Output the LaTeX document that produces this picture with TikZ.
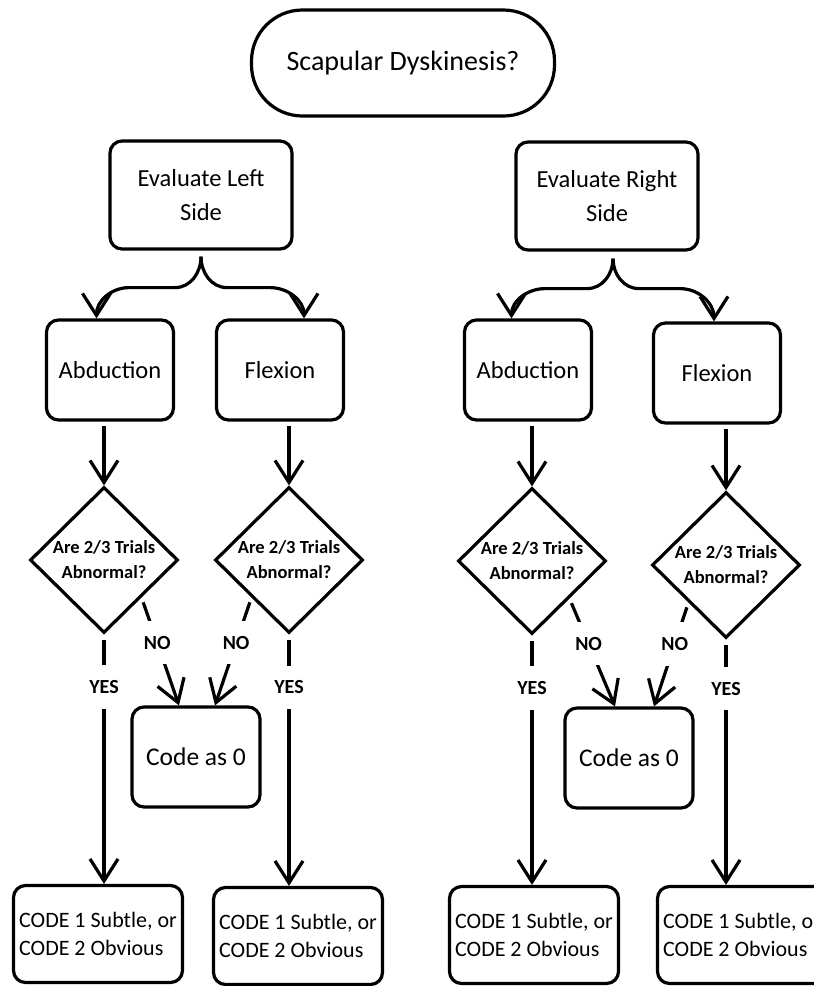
\documentclass[tikz,border=0pt]{standalone}
\usepackage{fontspec}
\setmainfont{Carlito}
\usetikzlibrary{arrows.meta,shapes.geometric}

\tikzset{
	box/.style={draw, line width=3.2pt, rounded corners=12pt, align=center, inner sep=0pt, font=\fontsize{24.5}{34}\selectfont},
	startbox/.style={box, rounded corners=51pt, minimum width=303pt, minimum height=106pt, font=\fontsize{28}{32}\selectfont},
	sidebox/.style={box, minimum width=182pt, minimum height=108pt},
	movebox/.style={box, minimum width=127pt, minimum height=100pt},
	zerobox/.style={box, minimum width=128pt, minimum height=100pt, font=\fontsize{25.5}{30}\selectfont},
	codebox/.style={box, minimum width=169pt, minimum height=97pt, align=left, font=\fontsize{22}{28}\selectfont},
	question/.style={draw, diamond, aspect=1, line width=3.2pt, inner sep=-3pt, minimum width=148pt, minimum height=146pt, align=center, font=\bfseries\fontsize{18.5}{25}\selectfont},
	answer/.style={fill=white, inner xsep=3pt, inner ysep=15pt, font=\bfseries\fontsize{20}{23}\selectfont},
	flow/.style={line width=3.2pt, -{Straight Barb[length=22pt,width=28pt]}, every edge/.append style={line width=3.2pt}}
}

\begin{document}
\begin{tikzpicture}[x=1pt, y=1pt]
	\useasboundingbox (0,0) rectangle (814,-986);
	\node[startbox] (start) at (403,-63) {Scapular Dyskinesis?};
	\node[sidebox] (evl) at (201,-195) {Evaluate Left\\Side};
	\node[sidebox] (evr) at (607,-196) {Evaluate Right\\Side};
	\node[movebox] (abl) at (110,-370) {Abduction};
	\node[movebox] (fll) at (280,-370) {Flexion};
	\node[movebox] (abr) at (528,-370) {Abduction};
	\node[movebox] (flr) at (717,-373) {Flexion};
	\node[question] (dl1) at (104,-560) {Are 2/3 Trials\\Abnormal?};
	\node[question] (dl2) at (289,-560) {Are 2/3 Trials\\Abnormal?};
	\node[question] (dr1) at (532,-561) {Are 2/3 Trials\\Abnormal?};
	\node[question] (dr2) at (726,-565) {Are 2/3 Trials\\Abnormal?};
	\node[zerobox] (c0l) at (196,-757) {Code as 0};
	\node[zerobox] (c0r) at (629,-758) {Code as 0};
	\node[codebox] (cl1) at (98,-934) {CODE 1 Subtle, or\\CODE 2 Obvious};
	\node[codebox] (cl2) at (298,-936) {CODE 1 Subtle, or\\CODE 2 Obvious};
	\node[codebox] (cr1) at (534,-935) {CODE 1 Subtle, or\\CODE 2 Obvious};
	\node[codebox] (cr2) at (742,-935) {CODE 1 Subtle, or\\CODE 2 Obvious};

	\draw[flow] ([yshift=-6pt]evl.south) to[out=-90,in=0] ++(-26,-31) -- ++(-46,0) to[out=180,in=90] ([xshift=-13.5pt]abl.north);
	\draw[flow] ([yshift=-6pt]evl.south) to[out=-90,in=180] ++(26,-31) -- ++(43,0) to[out=0,in=90] ([xshift=24pt]fll.north);
	\draw[flow] ([xshift=6pt,yshift=-7pt]evr.south) to[out=-90,in=0] ++(-26,-30) -- ++(-42,0) to[out=180,in=90] ([xshift=-16.5pt]abr.north);
	\draw[flow] ([xshift=6pt,yshift=-7pt]evr.south) to[out=-90,in=180] ++(26,-30) -- ++(41,0) to[out=0,in=90] ([xshift=-3pt]flr.north);

	\path[flow]
	(abl.south -| dl1.north) edge[shorten <=4pt] (dl1.north)
	(fll.south -| dl2.north) edge[shorten <=4pt] (dl2.north)
	(abr.south -| dr1.north) edge[shorten <=4pt] (dr1.north)
	(flr.south -| dr2.north) edge[shorten <=4pt] (dr2.north)
	(dl1.south) edge[shorten <=5pt] node[answer, pos=0.21] {YES} (dl1.south |- cl1.north)
	(dl2.south) edge[shorten <=5pt] node[answer, pos=0.21] {YES} (dl2.south |- cl2.north)
	(dr1.south) edge[shorten <=5pt] node[answer, pos=0.21] {YES} (dr1.south |- cr1.north)
	(dr2.south) edge[shorten <=5pt] node[answer, pos=0.2] {YES} (dr2.south |- cr2.north)
	(dl1.-45) edge[shorten <=5pt] node[answer, pos=0.42] {NO} ([xshift=-17pt]c0l.north)
	(dl2.-135) edge[shorten <=5pt] node[answer, pos=0.42] {NO} ([xshift=19pt]c0l.north)
	(dr1.-45) edge[shorten <=5pt] node[answer, pos=0.42] {NO} ([xshift=-14pt]c0r.north)
	(dr2.-135) edge[shorten <=5pt] node[answer, pos=0.4] {NO} ([xshift=25pt]c0r.north)
	;
\end{tikzpicture}
\end{document}
